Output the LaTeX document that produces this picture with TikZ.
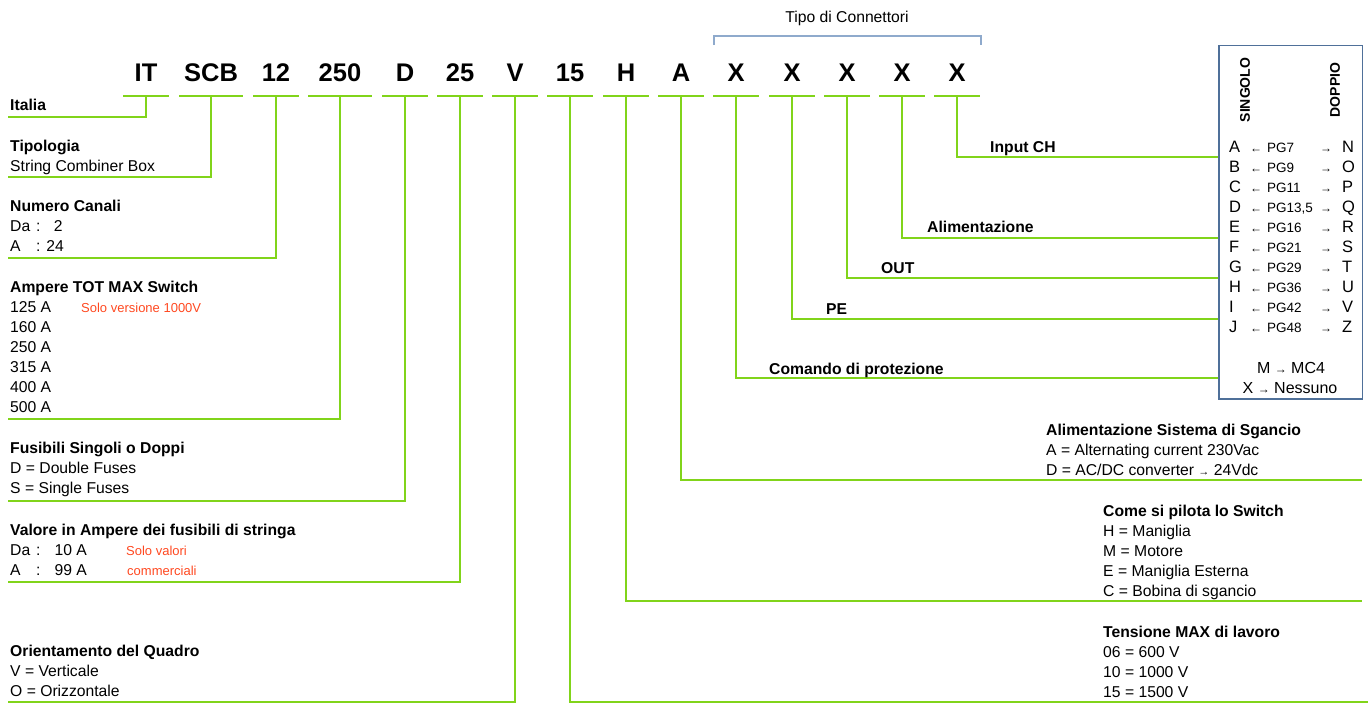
\documentclass[tikz,border=0pt]{standalone}
\usepackage{fontspec}
\setmainfont{Liberation Sans}
\usepackage{tikz}
\definecolor{lgreen}{RGB}{129,212,26}
\definecolor{redtxt}{RGB}{255,72,32}
\definecolor{boxblue}{RGB}{79,112,153}
\definecolor{brblue}{RGB}{143,170,204}
\newcommand{\bodyf}{\fontsize{15.7}{20}\selectfont}

\begin{document}
\begin{tikzpicture}[x=1pt,y=-1pt,
	link/.style={draw=lgreen, line width=2.6pt},
	code/.style={anchor=base, inner sep=0pt, font=\fontsize{25.5}{28}\selectfont\bfseries},
	lab/.style={anchor=base west, inner sep=0pt, align=left, font=\bodyf},
	tag/.style={anchor=base west, inner sep=0pt, font=\bodyf\bfseries},
	note/.style={anchor=base west, inner sep=0pt, text=redtxt, font=\fontsize{13}{16}\selectfont},
	cell/.style={anchor=base west, inner sep=0pt, font=\fontsize{16.5}{20}\selectfont},
	pg/.style={anchor=base west, inner sep=0pt, font=\fontsize{13.5}{16}\selectfont},
	arr/.style={anchor=base west, inner sep=0pt, font=\fontsize{12}{14}\selectfont}]
	\useasboundingbox (0,0) rectangle (1368,702);
	%\draw [help lines, step=50] (0,0) grid (1368,702);

	% codice
	\foreach \i/\x/\t/\w in {1/146/IT/23, 2/211/SCB/32, 3/276/12/23, 4/340/250/32, 5/405/D/23,
		6/460/25/23, 7/515/V/23, 8/570/15/23, 9/626/H/23, 10/681/A/23,
		11/736/X/23, 12/792/X/23, 13/847/X/23, 14/902/X/23, 15/957/X/23} {
		\node[code] (c\i) at (\x,81) {\t};
		\draw[link] (\x-\w,96) -- (\x+\w,96);
		\coordinate (u\i) at (\x,96);
	}

	\node[font=\bodyf, inner sep=0pt] (tipo) at (847,18) {Tipo di Connettori};
	\draw[brblue, line width=1.5pt] (714,45) -- (714,36) -- (981,36) -- (981,45);

	% tabella connettori
	\node[minimum width=143pt, minimum height=353pt,
		inner sep=0pt, anchor=north west] (box) at (1219,45.5) {};
	\node[rotate=90, inner sep=0pt, font=\fontsize{14}{16}\selectfont\bfseries] (singolo) at (1245,90) {SINGOLO};
	\node[rotate=90, inner sep=0pt, font=\fontsize{14}{16}\selectfont\bfseries] (doppio) at (1335,90) {DOPPIO};
	\foreach \i/\l/\p/\r in {0/A/PG7/N, 1/B/PG9/O, 2/C/PG11/P, 3/D/{PG13,5}/Q, 4/E/PG16/R,
		5/F/PG21/S, 6/G/PG29/T, 7/H/PG36/U, 8/I/PG42/V, 9/J/PG48/Z} {
		\node[cell] (sg\i) at (1229,152+20*\i) {\l};
		\node[arr] (la\i) at (1250,152+20*\i) {←};
		\node[pg] (pg\i) at (1267,152+20*\i) {\p};
		\node[arr] (ra\i) at (1320,152+20*\i) {→};
		\node[cell] (dp\i) at (1342,152+20*\i) {\r};
	}
	\node[inner sep=0pt, font=\fontsize{16}{20}\selectfont] (mc4) at (1291,368) {M {\fontsize{12}{14}\selectfont→} MC4};
	\node[inner sep=0pt, font=\fontsize{16}{20}\selectfont] (nessuno) at (1290,388) {X {\fontsize{12}{14}\selectfont→} Nessuno};

	% estremi dei collegamenti
	\coordinate (e1) at (8,117);
	\coordinate (e2) at (8,177);
	\coordinate (e3) at (8,258);
	\coordinate (e4) at (8,419);
	\coordinate (e5) at (8,501);
	\coordinate (e6) at (8,582);
	\coordinate (e7) at (8,702);
	\coordinate (e8) at (1368,702);
	\coordinate (e9) at (1362,601);
	\coordinate (e10) at (1362,480);
	\coordinate (e11) at (box.west |- 0,378);
	\coordinate (e12) at (box.west |- 0,319);
	\coordinate (e13) at (box.west |- 0,278);
	\coordinate (e14) at (box.west |- 0,238);
	\coordinate (e15) at (box.west |- 0,157);
	\foreach \i in {1,...,15}
		\draw[link] (u\i) |- (e\i);
	\draw[boxblue, line width=1.3pt] (box.north west) rectangle (box.south east);

	% descrizioni a sinistra (base = ultima riga)
	\node[tag] (italia) at (10,110) {Italia};
	\node[lab] (tipologia) at (10,171) {\textbf{Tipologia}\\String Combiner Box};
	\node[lab] (canali) at (10,251.5) {\textbf{Numero Canali}\\
		\makebox[26pt][l]{Da}:\makebox[22pt][r]{2}\\
		\makebox[26pt][l]{A}: 24};
	\node[lab] (ampere) at (10,412.5) {\textbf{Ampere TOT MAX Switch}\\125 A\\160 A\\250 A\\315 A\\400 A\\500 A};
	\node[note] (solo1000) at (81,312.5) {Solo versione 1000V};
	\node[lab] (fusibili) at (10,493.5) {\textbf{Fusibili Singoli o Doppi}\\D = Double Fuses\\S = Single Fuses};
	\node[lab] (valore) at (10,575) {\textbf{Valore in Ampere dei fusibili di stringa}\\
		\makebox[26pt][l]{Da}:\hspace{14pt}10 A\\
		\makebox[26pt][l]{A}:\hspace{14pt}99 A};
	\node[note] (solovalori) at (126,555) {Solo valori};
	\node[note] (commerciali) at (127,575) {commerciali};
	\node[lab] (orient) at (10,696.5) {\textbf{Orientamento del Quadro}\\V = Verticale\\O = Orizzontale};

	% descrizioni a destra
	\node[lab] (sgancio) at (1046,475) {\textbf{Alimentazione Sistema di Sgancio}\\
		A = Alternating current 230Vac\\
		D = AC/DC converter {\fontsize{11}{12}\selectfont→} 24Vdc};
	\node[lab] (pilota) at (1103,596) {\textbf{Come si pilota lo Switch}\\H = Maniglia\\M = Motore\\E = Maniglia Esterna\\C = Bobina di sgancio};
	\node[lab] (tensione) at (1103,697) {\textbf{Tensione MAX di lavoro}\\06 = 600 V\\10 = 1000 V\\15 = 1500 V};

	% connettori
	\node[tag] (input) at (990,152) {Input CH};
	\node[tag] (alim) at (927,232) {Alimentazione};
	\node[tag] (out) at (881,273) {OUT};
	\node[tag] (pe) at (826,314) {PE};
	\node[tag] (comando) at (769,374) {Comando di protezione};
\end{tikzpicture}
\end{document}
